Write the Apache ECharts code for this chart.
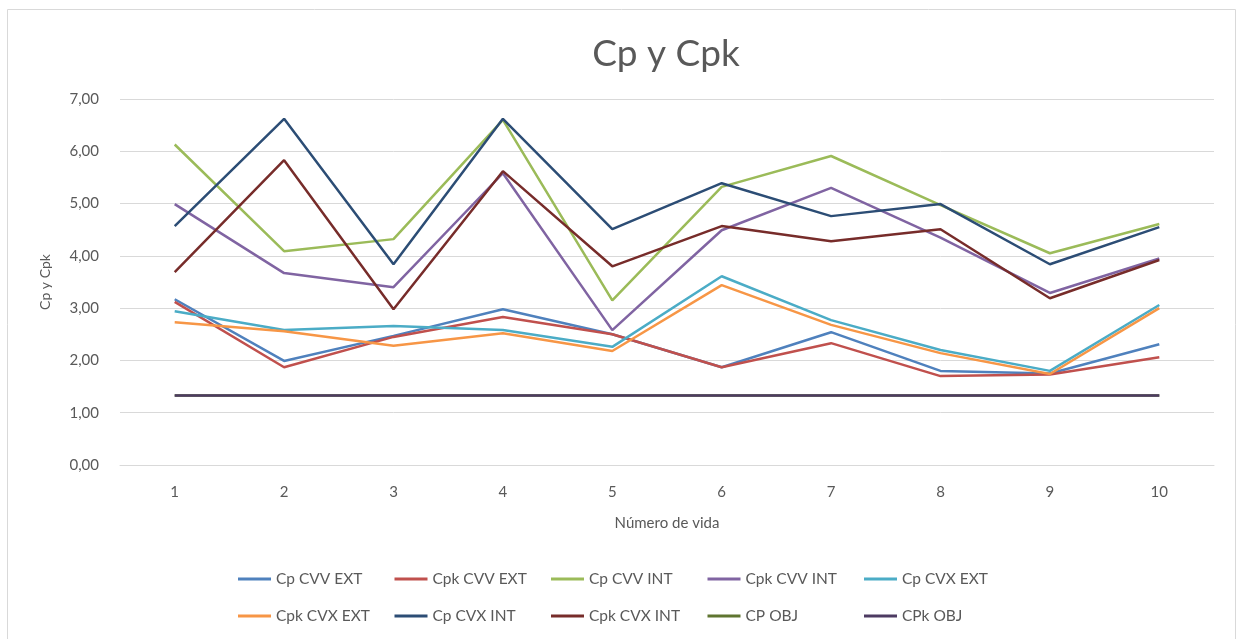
<!DOCTYPE html>
<html>
<head>
<meta charset="utf-8">
<script src="https://cdn.jsdelivr.net/npm/echarts@6/dist/echarts.min.js"></script>
<style>
  html, body { margin: 0; padding: 0; background: #fff; }
  #chart { width: 1240px; height: 639px; }
</style>
</head>
<body>
<div id="chart"></div>
<script>
const vidas = ['1', '2', '3', '4', '5', '6', '7', '8', '9', '10']
const yTicks = [0, 1, 2, 3, 4, 5, 6, 7]

const cpCvvExt  = [3.17, 1.99, 2.47, 2.98, 2.50, 1.87, 2.54, 1.80, 1.75, 2.31]
const cpkCvvExt = [3.12, 1.87, 2.45, 2.83, 2.50, 1.87, 2.33, 1.70, 1.73, 2.06]
const cpCvvInt  = [6.13, 4.09, 4.32, 6.60, 3.15, 5.32, 5.91, 4.97, 4.05, 4.61]
const cpkCvvInt = [4.99, 3.67, 3.40, 5.58, 2.58, 4.49, 5.30, 4.35, 3.29, 3.95]
const cpCvxExt  = [2.94, 2.58, 2.66, 2.58, 2.26, 3.61, 2.77, 2.20, 1.80, 3.06]
const cpkCvxExt = [2.73, 2.56, 2.28, 2.52, 2.18, 3.44, 2.68, 2.14, 1.74, 3.00]
const cpCvxInt  = [4.57, 6.62, 3.84, 6.62, 4.51, 5.39, 4.76, 4.99, 3.84, 4.55]
const cpkCvxInt = [3.69, 5.83, 2.98, 5.62, 3.80, 4.57, 4.28, 4.51, 3.19, 3.92]
const cpObj     = [1.33, 1.33, 1.33, 1.33, 1.33, 1.33, 1.33, 1.33, 1.33, 1.33]
const cpkObj    = [1.33, 1.33, 1.33, 1.33, 1.33, 1.33, 1.33, 1.33, 1.33, 1.33]

const seriesDefs = [
  { name: 'Cp CVV EXT',  data: cpCvvExt,  color: '#4F81BD' },
  { name: 'Cpk CVV EXT', data: cpkCvvExt, color: '#C0504D' },
  { name: 'Cp CVV INT',  data: cpCvvInt,  color: '#9BBB59' },
  { name: 'Cpk CVV INT', data: cpkCvvInt, color: '#8064A2' },
  { name: 'Cp CVX EXT',  data: cpCvxExt,  color: '#4BACC6' },
  { name: 'Cpk CVX EXT', data: cpkCvxExt, color: '#F79646' },
  { name: 'Cp CVX INT',  data: cpCvxInt,  color: '#2C4D75' },
  { name: 'Cpk CVX INT', data: cpkCvxInt, color: '#772C2A' },
  { name: 'CP OBJ',      data: cpObj,     color: '#5F7530' },
  { name: 'CPk OBJ',     data: cpkObj,    color: '#4D3B62' }
]

const font = 'Lato, "Open Sans", sans-serif'
const grey = '#595959'

// one legend per item so the columns line up like the Excel legend
const legends = seriesDefs.map((s, i) => ({
  left: 233 + (i % 5) * 156.5,
  top: i < 5 ? 566 : 603,
  itemWidth: 33,
  itemHeight: 3,
  itemGap: 0,
  icon: 'rect',
  textStyle: { color: grey, fontSize: 15.5, fontFamily: font },
  data: [s.name]
}))

const chart = echarts.init(document.getElementById('chart'))
chart.setOption({
  animation: false,
  title: {
    text: 'Cp y Cpk',
    left: 661,
    textAlign: 'center',
    top: 31,
    textStyle: { color: grey, fontSize: 37, fontWeight: 'normal', fontFamily: font }
  },
  graphic: [{
    type: 'rect',
    shape: { x: 7.5, y: 9.5, width: 1228, height: 640 },
    style: { fill: null, stroke: '#d9d9d9', lineWidth: 1 },
    silent: true
  }],
  legend: legends,
  grid: { left: 120, right: 26, top: 99, bottom: 174 },
  xAxis: {
    type: 'category',
    data: vidas,
    boundaryGap: true,
    name: 'Número de vida',
    nameLocation: 'middle',
    nameGap: 51,
    nameTextStyle: { color: grey, fontSize: 15, fontFamily: font },
    axisLine: { lineStyle: { color: '#d9d9d9', width: 1 } },
    axisTick: { show: false },
    axisLabel: { color: grey, fontSize: 15, fontFamily: font, margin: 20 }
  },
  yAxis: {
    type: 'value',
    min: yTicks[0],
    max: yTicks[yTicks.length - 1],
    interval: 1,
    name: 'Cp y Cpk',
    nameLocation: 'middle',
    nameGap: 68,
    nameRotate: 90,
    nameTextStyle: { color: grey, fontSize: 14, fontFamily: font },
    axisLine: { show: false },
    axisTick: { show: false },
    axisLabel: {
      color: grey, fontSize: 15, fontFamily: font, margin: 21,
      formatter: v => v.toFixed(2).replace('.', ',')
    },
    splitLine: { lineStyle: { color: '#d9d9d9', width: 1 } }
  },
  series: seriesDefs.map(s => ({
    name: s.name,
    type: 'line',
    data: s.data,
    symbol: 'none',
    color: s.color,
    lineStyle: { color: s.color, width: 2.5 }
  }))
})
</script>
</body>
</html>
